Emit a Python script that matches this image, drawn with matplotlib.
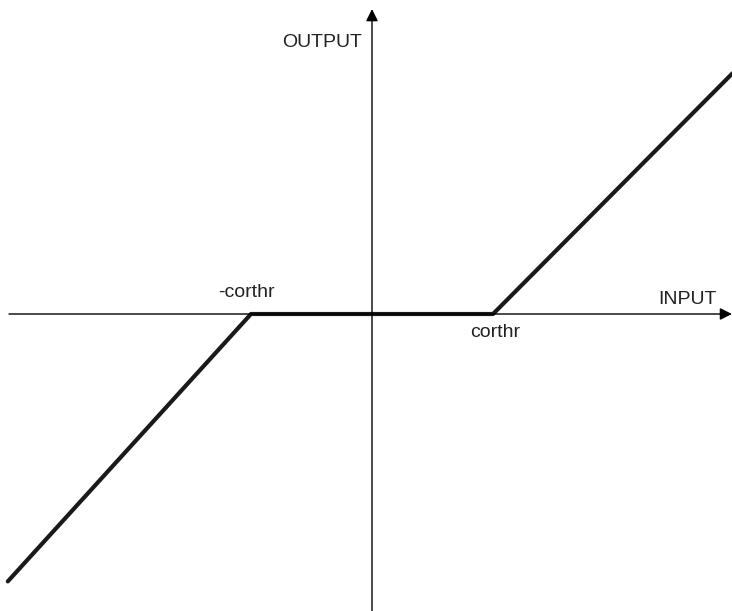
import matplotlib
matplotlib.use("Agg")
import matplotlib.pyplot as plt

# dead-zone transfer curve, threshold = 1 unit (corthr)
curve_x = [-3.01, -1.0, 1.0, 2.98]
curve_y = [-2.21, 0.0, 0.0, 1.99]

x_axis = [-3.0, 2.975]
y_axis = [-2.46, 2.52]

labels = ["-corthr", "corthr"]
label_x = [-1.04, 1.02]
label_y = [0.14, -0.19]

px = 121.0  # pixels per unit

fig = plt.figure(figsize=(7.32, 6.11), dpi=100)
ax = fig.add_axes([0, 0, 1, 1])
ax.set_xlim(-372 / px, 360 / px)
ax.set_ylim(-297 / px, 314 / px)
ax.axis('off')

arrow = dict(arrowstyle='-|>', color='black', lw=1.0, mutation_scale=18,
             shrinkA=0, shrinkB=0)
ax.annotate('', xy=(x_axis[1], 0), xytext=(x_axis[0], 0), arrowprops=arrow)
ax.annotate('', xy=(0, y_axis[1]), xytext=(0, y_axis[0]), arrowprops=arrow)

ax.plot(curve_x, curve_y, color='#1a1a1a', lw=3.0, solid_capstyle='round')

font = dict(family='Liberation Sans', fontsize=14, color='#222222')
for t, lx, ly in zip(labels, label_x, label_y):
    ax.text(lx, ly, t, ha='center', va='baseline', **font)
ax.text(2.61, 0.08, 'INPUT', ha='center', va='baseline', **font)
ax.text(-0.41, 2.21, 'OUTPUT', ha='center', va='baseline', **font)

fig.savefig('out.png', dpi=100)
